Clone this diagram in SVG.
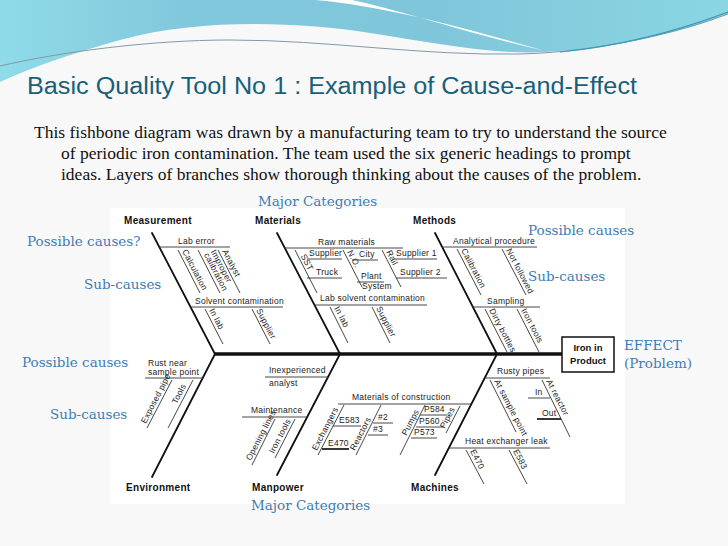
<svg xmlns="http://www.w3.org/2000/svg" width="728" height="546" viewBox="0 0 728 546">
<defs>
<linearGradient id="wave" x1="0" y1="0" x2="1" y2="0">
<stop offset="0" stop-color="#8fdbe8"/>
<stop offset="0.25" stop-color="#82c8dc"/>
<stop offset="0.6" stop-color="#7fc6da"/>
<stop offset="1" stop-color="#8ad6e3"/>
</linearGradient>
<style>
.bone{stroke:#111;stroke-width:1.8;fill:none;stroke-linecap:round}
.sub{stroke:#333;stroke-width:0.9;fill:none}
.thick{stroke:#222;stroke-width:1.8}
.t{font-family:"Liberation Sans",Arial,sans-serif;font-size:8.5px;letter-spacing:0.25px;fill:#222}
.cat{font-family:"Liberation Sans",Arial,sans-serif;font-size:10px;letter-spacing:0.3px;font-weight:bold;fill:#111}
.box{font-family:"Liberation Sans",Arial,sans-serif;font-size:9.5px;font-weight:bold;fill:#111}
.note{font-family:"DejaVu Serif",serif;font-size:13.5px;fill:#3f7cb5}
.para{font-family:"Liberation Serif",serif;font-size:17.5px;fill:#111}
</style>
</defs>
<rect width="728" height="546" fill="#f8f8f8"/>
<!-- top wave -->
<path d="M0,0 H728 V14 C690,30 620,48 545,52 C490,55 430,42 370,33 C300,22 200,18 120,40 C70,54 30,68 0,82 Z" fill="url(#wave)"/>
<path d="M315,0 C385,6 465,28 545,51 C470,34 400,10 352,0 Z" fill="#ffffff"/>
<path d="M0,66 C60,52 150,40 230,40 C330,40 420,56 520,54 C600,52 680,32 728,14" fill="none" stroke="#7f9ba6" stroke-width="1"/>
<path d="M560,52 C620,46 680,30 728,12" fill="none" stroke="#3a9ab8" stroke-width="1.2"/>
<text x="27" y="94" font-family="Liberation Sans,Arial,sans-serif" font-size="23.5" textLength="610" lengthAdjust="spacingAndGlyphs" fill="#17607a">Basic Quality Tool No 1 : Example of Cause-and-Effect</text>
<text class="para" x="34" y="138">This fishbone diagram was drawn by a manufacturing team to try to understand the source</text>
<text class="para" x="61" y="159">of periodic iron contamination. The team used the six generic headings to prompt</text>
<text class="para" x="61" y="180">ideas. Layers of branches show thorough thinking about the causes of the problem.</text>

<rect x="110" y="208" width="515" height="296" fill="#ffffff"/>

<g id="connectors">
<line x1="215" y1="354" x2="562" y2="354" stroke="#111" stroke-width="3.5"/>
<line class="bone" x1="152" y1="233" x2="215" y2="354"/>
<line class="bone" x1="277" y1="233" x2="340" y2="354"/>
<line class="bone" x1="435" y1="233" x2="497" y2="354"/>
<line class="bone" x1="152" y1="477" x2="215" y2="354"/>
<line class="bone" x1="277" y1="475" x2="340" y2="354"/>
<line class="bone" x1="435" y1="475" x2="497" y2="354"/>
</g>

<g id="effect">
<rect x="562" y="337" width="52" height="35" fill="#fff" stroke="#111" stroke-width="1.5"/>
<text class="box" x="588" y="351" text-anchor="middle">Iron in</text>
<text class="box" x="588" y="364" text-anchor="middle">Product</text>
</g>

<g id="measurement">
<text class="cat" x="124" y="224">Measurement</text>
<line class="sub" x1="159" y1="247" x2="230" y2="247"/>
<text class="t" x="178" y="244">Lab error</text>
<line class="sub" x1="178" y1="250" x2="200" y2="293"/>
<text class="t" transform="translate(182,251.3) rotate(62.5)">Calculation</text>
<line class="sub" x1="198" y1="250" x2="220" y2="293"/>
<text class="t" transform="translate(210.5,251.4) rotate(62.5)">Improper<tspan x="0" dy="7.5">calibration</tspan></text>
<line class="sub" x1="218" y1="250" x2="240" y2="293"/>
<text class="t" transform="translate(222,251.3) rotate(62.5)">Analyst</text>
<line class="sub" x1="190" y1="307" x2="283" y2="307"/>
<text class="t" x="195" y="304">Solvent contamination</text>
<line class="sub" x1="205" y1="309" x2="223" y2="344"/>
<text class="t" transform="translate(209,310.3) rotate(62.5)">In lab</text>
<line class="sub" x1="252" y1="309" x2="270" y2="344"/>
<text class="t" transform="translate(256,310.3) rotate(62.5)">Supplier</text>
</g>

<g id="materials">
<text class="cat" x="255" y="224">Materials</text>
<line class="sub" x1="285" y1="248" x2="403" y2="248"/>
<text class="t" x="318" y="245">Raw materials</text>
<line class="sub" x1="295" y1="250" x2="317" y2="293"/>
<text class="t" transform="translate(300.5,256) rotate(62.5)">SST</text>
<line class="sub" x1="307" y1="259" x2="342" y2="259"/>
<text class="t" x="309" y="256">Supplier</text>
<line class="sub" x1="307" y1="278" x2="342" y2="278"/>
<text class="t" x="316" y="275">Truck</text>
<line class="sub" x1="343" y1="250" x2="362" y2="287"/>
<text class="t" transform="translate(347,252) rotate(62.5)">N.O.</text>
<line class="sub" x1="352" y1="260" x2="378" y2="260" stroke-width="1.6"/>
<text class="t" x="359" y="257">City</text>
<line class="sub" x1="357" y1="282" x2="384" y2="282"/>
<text class="t" x="361" y="279">Plant</text>
<text class="t" x="362" y="289">System</text>
<line class="sub" x1="382" y1="250" x2="401" y2="287"/>
<text class="t" transform="translate(386,252) rotate(62.5)">Rail</text>
<line class="sub" x1="394" y1="259" x2="437" y2="259"/>
<text class="t" x="396" y="256">Supplier 1</text>
<line class="sub" x1="396" y1="278" x2="447" y2="278"/>
<text class="t" x="400" y="275">Supplier 2</text>
<line class="sub" x1="314" y1="305" x2="427" y2="305"/>
<text class="t" x="320" y="301">Lab solvent contamination</text>
<line class="sub" x1="330" y1="307" x2="348" y2="343"/>
<text class="t" transform="translate(334,308.3) rotate(62.5)">In lab</text>
<line class="sub" x1="372" y1="307" x2="390" y2="343"/>
<text class="t" transform="translate(376,308.3) rotate(62.5)">Supplier</text>
</g>

<g id="methods">
<text class="cat" x="413" y="224">Methods</text>
<line class="sub" x1="442" y1="247" x2="537" y2="247"/>
<text class="t" x="453" y="244">Analytical procedure</text>
<line class="sub" x1="457" y1="249" x2="481" y2="295"/>
<text class="t" transform="translate(461,250.3) rotate(62.5)">Calibration</text>
<line class="sub" x1="502" y1="249" x2="526" y2="295"/>
<text class="t" transform="translate(506,250.3) rotate(62.5)">Not followed</text>
<line class="sub" x1="473" y1="307" x2="540" y2="307"/>
<text class="t" x="487" y="304">Sampling</text>
<line class="sub" x1="485" y1="309" x2="507" y2="352"/>
<text class="t" transform="translate(489,310.3) rotate(62.5)">Dirty bottles</text>
<line class="sub" x1="517" y1="309" x2="539" y2="352"/>
<text class="t" transform="translate(521,310.3) rotate(62.5)">Iron tools</text>
</g>

<g id="environment">
<text class="cat" x="126" y="491">Environment</text>
<text class="t" x="148" y="366">Rust near</text>
<text class="t" x="148" y="375">sample point</text>
<line class="sub" x1="145" y1="378" x2="203" y2="378"/>
<line class="sub" x1="172" y1="380" x2="147" y2="428"/>
<text class="t" transform="translate(145.7,424) rotate(-62.5)">Exposed pipe</text>
<line class="sub" x1="193" y1="380" x2="168" y2="428"/>
<text class="t" transform="translate(176.7,404.5) rotate(-62.5)">Tools</text>
</g>

<g id="manpower">
<text class="cat" x="252" y="491">Manpower</text>
<text class="t" x="269" y="373">Inexperienced</text>
<line class="sub" x1="265" y1="377" x2="328" y2="377"/>
<text class="t" x="269" y="386">analyst</text>
<text class="t" x="251" y="413">Maintenance</text>
<line class="sub" x1="242" y1="417" x2="307" y2="417"/>
<line class="sub" x1="275" y1="419" x2="252" y2="465"/>
<text class="t" transform="translate(250.7,461) rotate(-62.5)">Opening lines</text>
<line class="sub" x1="295" y1="419" x2="275" y2="458"/>
<text class="t" transform="translate(273.7,454) rotate(-62.5)">Iron tools</text>
</g>

<g id="machines">
<text class="cat" x="411" y="491">Machines</text>
<text class="t" x="352" y="400">Materials of construction</text>
<line class="sub" x1="338" y1="404" x2="471" y2="404"/>
<line class="sub" x1="344" y1="405" x2="318" y2="455"/>
<text class="t" transform="translate(316.7,451) rotate(-62.5)">Exchangers</text>
<line class="sub" x1="333" y1="426" x2="361" y2="426"/>
<text class="t" x="339" y="423">E583</text>
<line class="thick" x1="322" y1="449" x2="349" y2="449"/>
<text class="t" x="328" y="446">E470</text>
<line class="sub" x1="381" y1="405" x2="356" y2="455"/>
<text class="t" transform="translate(354.7,451) rotate(-62.5)">Reactors</text>
<line class="sub" x1="373" y1="423" x2="393" y2="423"/>
<text class="t" x="378" y="420">#2</text>
<line class="sub" x1="368" y1="435" x2="388" y2="435"/>
<text class="t" x="373" y="432">#3</text>
<line class="sub" x1="425" y1="405" x2="400" y2="455"/>
<text class="t" transform="translate(406.5,436) rotate(-62.5)">Pumps</text>
<line class="sub" x1="420" y1="415" x2="447" y2="415"/>
<text class="t" x="424" y="412">P584</text>
<line class="sub" x1="416" y1="427" x2="443" y2="427"/>
<text class="t" x="419" y="424">P560</text>
<line class="sub" x1="411" y1="438" x2="437" y2="438"/>
<text class="t" x="414" y="435">P573</text>
<line class="sub" x1="460" y1="406" x2="446" y2="433"/>
<text class="t" transform="translate(444.7,429) rotate(-62.5)">Pipes</text>
<text class="t" x="497" y="374">Rusty pipes</text>
<line class="sub" x1="485" y1="378" x2="550" y2="378"/>
<line class="sub" x1="490" y1="380" x2="516" y2="432"/>
<text class="t" transform="translate(494,381.3) rotate(62.5)">At sample point</text>
<line class="sub" x1="542" y1="380" x2="570" y2="437"/>
<text class="t" transform="translate(546,381.3) rotate(62.5)">At reactor</text>
<line class="sub" x1="528" y1="398" x2="550" y2="398"/>
<text class="t" x="535" y="395">In</text>
<line class="thick" x1="537" y1="419" x2="561" y2="419"/>
<text class="t" x="542" y="416">Out</text>
<text class="t" x="465" y="444">Heat exchanger leak</text>
<line class="sub" x1="449" y1="448" x2="550" y2="448"/>
<line class="sub" x1="466" y1="450" x2="484" y2="484"/>
<text class="t" transform="translate(470,451.3) rotate(62.5)">E470</text>
<line class="sub" x1="509" y1="450" x2="527" y2="484"/>
<text class="t" transform="translate(513,451.3) rotate(62.5)">E583</text>
</g>

<g id="annotations">
<text class="note" x="258" y="206">Major Categories</text>
<text class="note" x="251" y="510">Major Categories</text>
<text class="note" x="27" y="246">Possible causes?</text>
<text class="note" x="84" y="289" font-size="15.5">Sub-causes</text>
<text class="note" x="528" y="235">Possible causes</text>
<text class="note" x="528" y="281">Sub-causes</text>
<text class="note" x="624" y="350">EFFECT</text>
<text class="note" x="624" y="368">(Problem)</text>
<text class="note" x="22" y="367">Possible causes</text>
<text class="note" x="50" y="419">Sub-causes</text>
</g>
</svg>
